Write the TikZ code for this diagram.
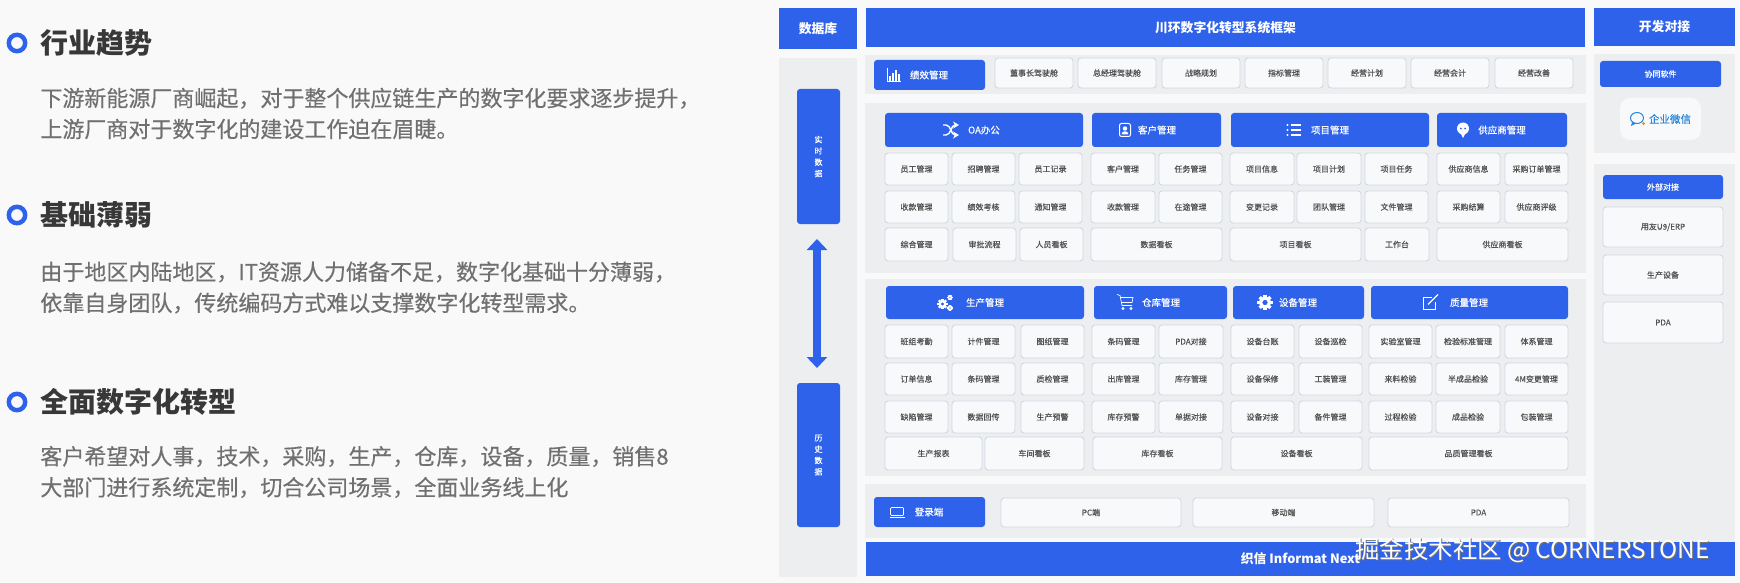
\documentclass[tikz,border=0pt]{standalone}
\usepackage{fontspec}
\setmainfont{Noto Sans CJK SC}
\newfontfamily\medfont[FakeBold=0.35]{Noto Sans CJK SC}
\usetikzlibrary{arrows.meta, positioning}
\definecolor{brand}{HTML}{2E62EB}
\definecolor{page}{HTML}{F9F9FA}
\definecolor{band}{HTML}{ECEEF0}
\definecolor{cellbg}{HTML}{F8F9FB}
\definecolor{cellline}{HTML}{D2D7E2}
\definecolor{wechat}{HTML}{2A86D8}
\tikzset{
  panel/.style    = {fill=band, inner sep=0pt, outer sep=0pt},
  cell/.style     = {draw=cellline, line width=0.45pt, fill=cellbg, rounded corners=1.5pt,
                     inner sep=0pt, outer sep=0pt, text=black!68,
                     font=\fontsize{4}{5}\selectfont\medfont},
  head/.style     = {fill=brand, rounded corners=1.5pt, inner sep=0pt, outer sep=0pt},
  headtext/.style = {text=white, inner sep=0pt, font=\fontsize{4.75}{6}\selectfont\medfont},
  bar/.style      = {fill=brand, inner sep=0pt, outer sep=0pt, text=white,
                     font=\fontsize{6.4}{8}\selectfont\bfseries},
  small/.style    = {head, text=white, align=center, font=\fontsize{4}{5.65}\selectfont\medfont},
  bullet/.style   = {circle, draw=brand, line width=2.25pt, inner sep=0pt, minimum size=8.2pt},
  headline/.style = {anchor=west, inner sep=0pt, text=black!78,
                     font=\fontsize{14}{16}\selectfont\bfseries},
  para/.style     = {anchor=west, align=left, inner sep=0pt, text=black!56,
                     font=\fontsize{11}{15.5}\selectfont\medfont},
  flow/.style     = {{Triangle[length=5.5pt,width=10pt]}-{Triangle[length=5.5pt,width=10pt]},
                     draw=brand, line width=4pt, shorten <=7.5pt, shorten >=7.5pt},
  icon/.style     = {draw=white, line width=0.5pt},
  pics/bars/.style = {code={
    \draw[icon] (-7,-7) -- (-7,7) -- (7,7);
    \foreach \bx/\by in {-4/1,-1/-2,2/-5,5/-1} \fill[white] (\bx-.9,6) rectangle (\bx+.9,\by);
  }},
  pics/shuffle/.style = {code={
    \draw[icon, line width=.7pt, -{Stealth[length=3pt,width=3.5pt]}] (-8,-5) -- (-5,-5) .. controls (0,-5) and (0,5) .. (4,5) -- (8,5);
    \draw[icon, line width=.7pt, -{Stealth[length=3pt,width=3.5pt]}] (-8,5) -- (-5,5) .. controls (0,5) and (0,-5) .. (4,-5) -- (8,-5);
  }},
  pics/contact/.style = {code={
    \draw[icon, rounded corners=1pt] (-5.5,-6.5) rectangle (5.5,6.5);
    \fill[white] (0,-1.5) circle (2.2);
    \fill[white] (-3.2,4.5) -- (-3.2,3) .. controls (-2.5,.8) and (2.5,.8) .. (3.2,3) -- (3.2,4.5) -- cycle;
  }},
  pics/tasks/.style = {code={
    \foreach \ly in {-5,0,5} {
      \draw[icon, line width=.8pt] (-3,\ly) -- (7,\ly);
      \fill[white] (-6.5,\ly) circle (1.2);
    }
  }},
  pics/bubble/.style = {code={
    \fill[white] (0,-1.5) circle (6);
    \fill[white] (-2.5,3) -- (0,8) -- (2.5,3) -- cycle;
    \fill[brand] (-2.2,-1.5) circle (1) (2.2,-1.5) circle (1);
  }},
  pics/cog/.style = {code={
    \foreach \a in {0,45,...,315} \fill[white, rotate=\a] (-.9,-3.9) rectangle (.9,-2.5);
    \fill[white, even odd rule] (0,0) circle (3) (0,0) circle (1.4);
  }},
  pics/gears/.style = {code={
    \pic[scale=1.35] at (-2.5,1.5) {cog};
    \pic[scale=.7] at (5,-5) {cog};
    \pic[scale=.7] at (5,5.5) {cog};
  }},
  pics/bigcog/.style = {code={\pic[scale=1.95] {cog};}},
  pics/cart/.style = {code={
    \draw[icon, line width=.35pt] (-8,-8) -- (-5,-7) -- (-3,3) -- (7,3);
    \draw[icon, line width=.35pt] (-4.5,-5) -- (8,-5) -- (7,0) -- (-3.6,0);
    \draw[icon, line width=.35pt] (-2,6) circle (1.2) (6,6) circle (1.2);
  }},
  pics/edit/.style = {code={
    \draw[icon, line width=.45pt] (2,-5) -- (-7,-5) -- (-7,7) -- (5,7) -- (5,-1);
    \draw[icon, line width=.6pt] (-2,2) -- (8,-8);
  }},
  pics/laptop/.style = {code={
    \draw[icon, line width=.35pt, rounded corners=.5pt] (-6.5,-4.5) rectangle (6.5,3.5);
    \draw[icon, line width=.5pt] (-7.5,5.5) -- (7.5,5.5);
  }},
}
\newcommand{\boxat}[7][cell]{\node[#1, minimum width={(#5-#3)*.5pt}, minimum height={(#6-#4)*.5pt}]
  (#2) at ({(#3+#5)/2},{(#4+#6)/2}) {#7};}
\newcommand{\headat}[9]{\boxat[head]{#1}{#2}{#3}{#4}{#5}{}
  \node[headtext] (#1-t) at (#7,{(#3+#5)/2}) {#6};
  \pic at (#9,{(#3+#5)/2}) {#8};}
\newcommand{\cellrow}[4]{\foreach \xa/\xb/\txt [count=\n] in {#4}
  {\boxat{#1-\n}{\xa}{#2}{\xb}{#3}{\txt}}}
\begin{document}
\begin{tikzpicture}[x=.5pt, y=-.5pt]
  \useasboundingbox (0,0) rectangle (1740,583);
  \fill[page] (0,0) rectangle (1740,583);

  \node[bullet] (dot1) at (17,43) {};
  \node[headline] (trend) at (40,43) {行业趋势};
  \node[para] (trendtext) at (40,113.5) {下游新能源厂商崛起，对于整个供应链生产的数字化要求逐步提升，\\上游厂商对于数字化的建设工作迫在眉睫。};
  \node[bullet] (dot2) at (17,215) {};
  \node[headline] (weak) at (40,215) {基础薄弱};
  \node[para] (weaktext) at (40,287.5) {由于地区内陆地区，IT资源人力储备不足，数字化基础十分薄弱，\\依靠自身团队，传统编码方式难以支撑数字化转型需求。};
  \node[bullet] (dot3) at (17,402) {};
  \node[headline] (full) at (40,402) {全面数字化转型};
  \node[para] (fulltext) at (40,472) {客户希望对人事，技术，采购，生产，仓库，设备，质量，销售8\\大部门进行系统定制，切合公司场景，全面业务线上化};

  \boxat[bar]{dbhead}{779}{8}{857}{49}{数据库}
  \boxat[panel]{dbband}{779}{58}{857}{577}{}
  \boxat[small]{live}{797}{89}{840}{224}{实\\时\\数\\据}
  \boxat[small]{past}{797}{383}{840}{527}{历\\史\\数\\据}
  \draw[flow] ([xshift=-.75pt]live.south) -- ([xshift=-.75pt]past.north);

  \boxat[bar]{title}{866}{8}{1585}{47}{川环数字化转型系统框架}
  \boxat[panel]{kpiband}{865}{55}{1586}{94}{}
  \boxat[panel]{upband}{865}{103}{1586}{273}{}
  \boxat[panel]{lowband}{865}{279}{1586}{476}{}
  \boxat[panel]{loginband}{865}{484}{1586}{538}{}

  \headat{kpi}{874}{60}{985}{90}{绩效管理}{929}{bars}{894}
  \cellrow{kpic}{58}{88}{995/1073/董事长驾驶舱,1078/1156/总经理驾驶舱,1162/1240/战略规划,1245/1323/指标管理,1328/1406/经营计划,1411/1489/经营会计,1495/1573/经营改善}

  \headat{oa}{885}{113}{1083}{147}{OA办公}{984}{shuffle}{951}
  \headat{crm}{1092}{113}{1221}{147}{客户管理}{1157}{contact}{1125}
  \headat{proj}{1231}{113}{1429}{147}{项目管理}{1330}{tasks}{1294}
  \headat{sup}{1437}{113}{1567}{147}{供应商管理}{1502}{bubble}{1463}
  \cellrow{ra}{153}{185}{885/948/员工管理,952/1015/招聘管理,1019/1082/员工记录,1091/1155/客户管理,1159/1222/任务管理,1230/1294/项目信息,1297/1361/项目计划,1365/1428/项目任务,1437/1500/供应商信息,1505/1568/采购订单管理}
  \cellrow{rb}{191}{223}{885/948/收款管理,952/1015/绩效考核,1019/1082/通知管理,1091/1155/收款管理,1159/1222/在途管理,1230/1294/变更记录,1297/1361/团队管理,1365/1428/文件管理,1437/1500/采购结算,1505/1568/供应商评级}
  \cellrow{rc}{228}{261}{885/948/综合管理,953/1016/审批流程,1020/1083/人员看板,1091/1222/数据看板,1230/1361/项目看板,1365/1429/工作台,1437/1568/供应商看板}

  \headat{prod}{886}{286}{1084}{319}{生产管理}{985}{gears}{945}
  \headat{store}{1094}{286}{1227}{319}{仓库管理}{1161}{cart}{1125}
  \headat{equip}{1233}{286}{1364}{319}{设备管理}{1298}{bigcog}{1265}
  \headat{qual}{1371}{286}{1568}{319}{质量管理}{1469}{edit}{1430}
  \cellrow{rd}{325}{358}{885/948/班组考勤,952/1015/计件管理,1021/1084/图纸管理,1092/1155/条码管理,1159/1223/PDA对接,1231/1294/设备台账,1299/1362/设备巡检,1369/1432/实验室管理,1436/1500/检验标准管理,1505/1568/体系管理}
  \cellrow{re}{363}{395}{885/948/订单信息,952/1015/条码管理,1021/1084/质检管理,1092/1155/出库管理,1159/1223/库存管理,1231/1294/设备保修,1299/1362/工装管理,1369/1432/来料检验,1436/1500/半成品检验,1505/1568/4M变更管理}
  \cellrow{rf}{401}{433}{885/948/缺陷管理,952/1015/数据回传,1021/1084/生产预警,1092/1155/库存预警,1159/1223/单据对接,1231/1294/设备对接,1299/1362/备件管理,1369/1432/过程检验,1436/1500/成品检验,1505/1568/包装管理}
  \cellrow{rg}{437}{470}{885/982/生产报表,985/1084/车间看板,1093/1222/库存看板,1231/1362/设备看板,1369/1568/品质管理看板}

  \headat{login}{874}{497}{985}{527}{登录端}{929}{laptop}{897}
  \cellrow{rh}{498}{527}{1001/1181/PC端,1193/1374/移动端,1388/1569/PDA}

  \boxat[bar]{devhead}{1594}{8}{1735}{46}{开发对接}
  \boxat[panel]{softband}{1594}{54}{1735}{153}{}
  \boxat[panel]{extband}{1594}{164}{1735}{542}{}
  \boxat[small]{soft}{1600}{61}{1721}{87}{协同软件}
  \boxat[cell, draw=none, rounded corners=5pt]{card}{1620}{98}{1701}{140}{}
  \node[inner sep=0pt, text=wechat, font=\fontsize{5.25}{6}\selectfont\medfont] (wecom) at (1670,119) {企业微信};
  \draw[draw=wechat, line width=.5pt] (1637,118) ellipse (6.5 and 5.5);
  \fill[wechat] (1632,122) -- (1631,126) -- (1636,123.5) -- cycle;
  \fill[orange!90!yellow] (1643.5,123.5) circle (1.6);
  \boxat[small]{ext}{1603}{175}{1723}{199}{外部对接}
  \boxat{erp}{1603}{207}{1723}{247}{用友U9/ERP}
  \boxat{device}{1603}{255}{1723}{295}{生产设备}
  \boxat{pda}{1603}{302}{1723}{343}{PDA}

  \boxat[bar]{foot}{866}{542}{1735}{576}{织信 Informat Next}
  \node[anchor=west, inner sep=0pt, text=black!55, font=\fontsize{12.2}{14}\selectfont] (markb) at (1356,551) {掘金技术社区 @ CORNERSTONE};
  \node[anchor=west, inner sep=0pt, text=white, font=\fontsize{12.2}{14}\selectfont] (mark) at (1355,550) {掘金技术社区 @ CORNERSTONE};
\end{tikzpicture}
\end{document}
